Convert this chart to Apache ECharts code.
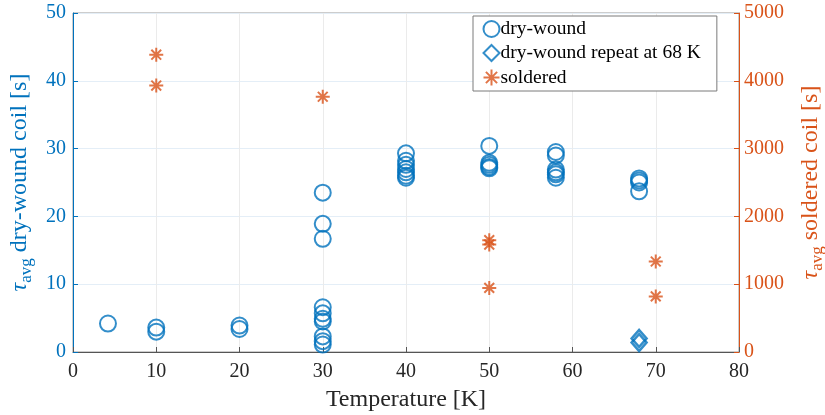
<!DOCTYPE html>
<html>
<head>
<meta charset="utf-8">
<script src="https://cdn.jsdelivr.net/npm/echarts@6/dist/echarts.min.js"></script>
<style>
  html, body { margin: 0; padding: 0; background: #fff; }
  #chart { width: 825px; height: 415px; }
</style>
</head>
<body>
<div id="chart"></div>
<script>
// dry-wound coil, left axis [s]
const dryTemp = [4.2, 10, 10, 20, 20,
  30, 30, 30, 30, 30, 30, 30, 30, 30, 30,
  40, 40, 40, 40, 40, 40, 40,
  50, 50, 50, 50, 50,
  58, 58, 58, 58, 58, 58,
  68, 68, 68, 68];
const dryTau = [4.2, 3.6, 3.0, 3.9, 3.4,
  23.5, 18.9, 16.7, 6.6, 5.7, 4.9, 4.5, 2.3, 1.6, 1.1,
  29.3, 28.2, 27.6, 27.0, 26.5, 26.0, 25.7,
  30.4, 27.9, 27.6, 27.3, 27.1,
  29.5, 29.0, 26.9, 26.5, 26.2, 25.7,
  25.6, 25.3, 25.0, 23.7];

// dry-wound repeat at 68 K, left axis [s]
const repeatTemp = [68, 68];
const repeatTau = [2.0, 1.4];

// soldered coil, right axis [s]
const solderTemp = [10, 10, 30, 50, 50, 50, 70, 70];
const solderTau = [4385, 3930, 3765, 1650, 1585, 945, 1335, 820];

const xTicks = [0, 80, 10];
const leftTicks = [0, 50, 10];
const rightTicks = [0, 5000, 1000];

const blue = '#0072BD';
const orange = '#D95319';
const serif = 'Liberation Serif';

function pairs(xs, ys) {
  return xs.map((x, i) => [x, ys[i]]);
}

const star = 'path://M0,-10L0,10M-10,0L10,0M-7,-7L7,7M-7,7L7,-7';

const chart = echarts.init(document.getElementById('chart'));
chart.setOption({
  animation: false,
  textStyle: { fontFamily: serif },
  grid: {
    left: 73, right: 86, top: 13, bottom: 63,
    outerBoundsMode: 'none',
    containLabel: false,
    show: true, borderColor: '#9a9a9a', borderWidth: 1,
  },
  legend: {
    orient: 'vertical',
    left: 473, top: 16,
    width: 240,
    padding: [3, 16, 3, 8],
    itemGap: 4,
    itemWidth: 16, itemHeight: 16,
    borderColor: '#7a7a7a', borderWidth: 1,
    backgroundColor: '#fff',
    textStyle: { fontFamily: serif, fontSize: 19.5, color: '#000', padding: [0, 0, 0, -4] },
    data: ['dry-wound', 'dry-wound repeat at 68 K', 'soldered'],
  },
  xAxis: {
    type: 'value',
    min: xTicks[0], max: xTicks[1], interval: xTicks[2],
    name: 'Temperature [K]',
    nameLocation: 'middle',
    nameGap: 36,
    nameTextStyle: { fontFamily: serif, fontSize: 24, color: '#262626' },
    axisLine: { show: true, onZero: false, lineStyle: { color: '#555' } },
    axisTick: { show: true, inside: true, length: 5, lineStyle: { color: '#555' } },
    axisLabel: { fontFamily: serif, fontSize: 20, color: '#262626', margin: 10 },
    splitLine: { show: true, lineStyle: { color: '#ebebeb' } },
  },
  yAxis: [
    {
      type: 'value',
      position: 'left',
      min: leftTicks[0], max: leftTicks[1], interval: leftTicks[2],
      name: '{t|τ}{s|avg} dry-wound coil [s]',
      nameLocation: 'middle',
      nameRotate: 90,
      nameGap: 35,
      nameTextStyle: {
        fontFamily: serif, fontSize: 24, color: blue,
        rich: {
          t: { fontFamily: serif, fontSize: 24, color: blue, fontStyle: 'italic' },
          s: { fontFamily: serif, fontSize: 17, color: blue, verticalAlign: 'bottom', padding: [14, 0, 0, 0] },
        },
      },
      axisLine: { show: true, lineStyle: { color: blue } },
      axisTick: { show: true, inside: true, length: 5, lineStyle: { color: blue } },
      axisLabel: { fontFamily: serif, fontSize: 20, color: blue, margin: 7 },
      splitLine: { show: true, lineStyle: { color: '#e4eef7' } },
    },
    {
      type: 'value',
      position: 'right',
      min: rightTicks[0], max: rightTicks[1], interval: rightTicks[2],
      name: '{t|τ}{s|avg} soldered coil [s]',
      nameLocation: 'middle',
      nameRotate: 90,
      nameGap: 56,
      nameTextStyle: {
        fontFamily: serif, fontSize: 24, color: orange,
        rich: {
          t: { fontFamily: serif, fontSize: 24, color: orange, fontStyle: 'italic' },
          s: { fontFamily: serif, fontSize: 17, color: orange, verticalAlign: 'bottom', padding: [14, 0, 0, 0] },
        },
      },
      axisLine: { show: true, lineStyle: { color: orange } },
      axisTick: { show: true, inside: true, length: 5, lineStyle: { color: orange } },
      axisLabel: { fontFamily: serif, fontSize: 20, color: orange, margin: 5, formatter: (v) => String(v) },
      splitLine: { show: false },
    },
  ],
  series: [
    {
      name: 'dry-wound',
      type: 'scatter',
      yAxisIndex: 0,
      symbol: 'circle',
      symbolSize: 16,
      itemStyle: { color: 'rgba(0,0,0,0)', borderColor: blue, borderWidth: 2 },
      data: pairs(dryTemp, dryTau),
    },
    {
      name: 'dry-wound repeat at 68 K',
      type: 'scatter',
      yAxisIndex: 0,
      symbol: 'diamond',
      symbolSize: [15, 17],
      itemStyle: { color: 'rgba(0,0,0,0)', borderColor: blue, borderWidth: 2.5 },
      data: pairs(repeatTemp, repeatTau),
    },
    {
      name: 'soldered',
      type: 'scatter',
      yAxisIndex: 1,
      symbol: star,
      symbolSize: 14,
      itemStyle: { color: 'none', borderColor: orange, borderWidth: 2 },
      data: pairs(solderTemp, solderTau),
    },
  ],
});
</script>
</body>
</html>
